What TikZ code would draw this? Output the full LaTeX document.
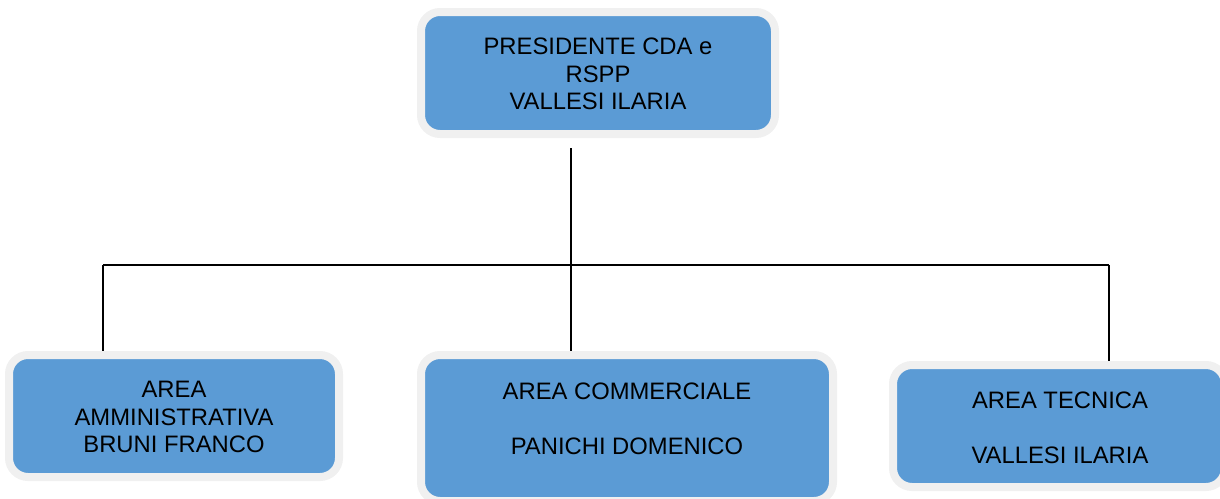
\documentclass[tikz,border=0pt]{standalone}
\usepackage{fontspec}
\setmainfont{Liberation Sans}
\definecolor{boxblue}{HTML}{5B9BD5}
\definecolor{boxrim}{HTML}{F0F0F0}
\begin{document}
\begin{tikzpicture}[x=1pt,y=-1pt,
  orgbox/.style={draw=boxrim, line width=8pt, fill=boxblue, rounded corners=19pt, inner sep=0pt},
  orgtext/.style={align=center, inner sep=0pt, font=\fontsize{23.8}{27.5}\selectfont},
  link/.style={draw=black, line width=2pt}]
\useasboundingbox (0,0) rectangle (1220,498);
% junction coordinates
\coordinate (ts) at (571,148);
\coordinate (jm) at (571,265);
\coordinate (jl) at (103,265);
\coordinate (jr) at (1109,265);
\coordinate (ml) at (103,355);
\coordinate (mm) at (571,355);
\coordinate (mr) at (1109,365);
% connectors
\draw[link] (ts) -- (mm);
\draw[link] (jl) -- (jr);
\draw[link] (jl) -- (ml);
\draw[link] (jr) -- (mr);
% boxes
\node[orgbox, minimum width=354pt, minimum height=122pt] (top) at (598,73) {};
\node[orgbox, minimum width=330pt, minimum height=122pt] (left) at (174,416) {};
\node[orgbox, minimum width=412pt, minimum height=146pt] (mid) at (627,428) {};
\node[orgbox, minimum width=332pt, minimum height=122pt] (right) at (1059,426) {};
% texts
\node[orgtext] (toptext) at (598,74) {PRESIDENTE CDA e\\RSPP\\VALLESI ILARIA};
\node[orgtext] (lefttext) at (174,417) {AREA\\AMMINISTRATIVA\\BRUNI FRANCO};
\node[orgtext] (midtext) at (627,418.5) {AREA COMMERCIALE\\[27.5pt]PANICHI DOMENICO};
\node[orgtext] (righttext) at (1060,428) {AREA TECNICA\\[27.5pt]VALLESI ILARIA};
\end{tikzpicture}
\end{document}
